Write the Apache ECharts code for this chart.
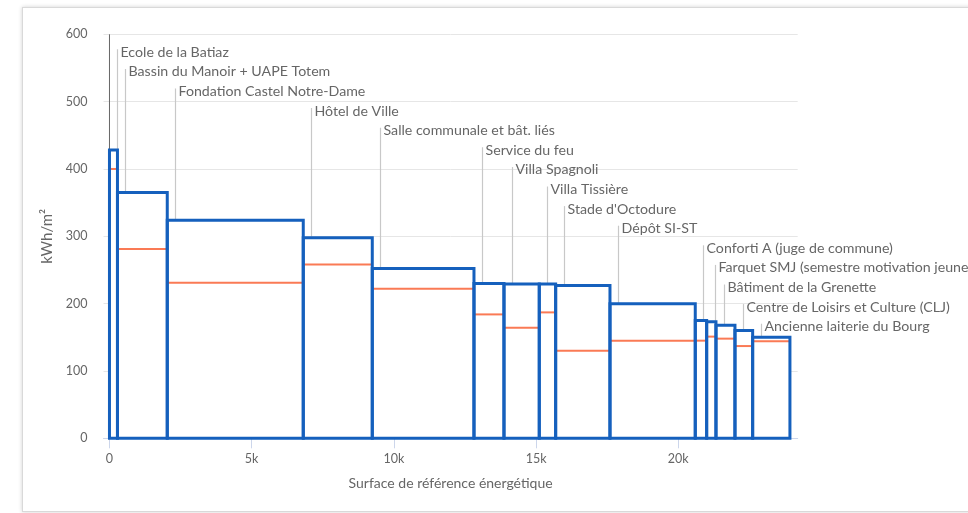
<!DOCTYPE html>
<html>
<head>
<meta charset="utf-8">
<script src="https://cdn.jsdelivr.net/npm/echarts@6/dist/echarts.min.js"></script>
<style>
html,body{margin:0;padding:0;background:#fff;overflow:hidden;width:968px;height:513px;}
#frame{position:absolute;left:22px;top:7px;width:1200px;height:503px;border:1px solid #d9d9d9;box-shadow:0 0 4px rgba(0,0,0,0.18);background:#fff;}
#chart{position:absolute;left:0;top:0;width:968px;height:513px;}
</style>
</head>
<body>
<div id="frame"></div>
<div id="chart"></div>
<script>
const buildings = [
  "Ecole de la Batiaz",
  "Bassin du Manoir + UAPE Totem",
  "Fondation Castel Notre-Dame",
  "Hôtel de Ville",
  "Salle communale et bât. liés",
  "Service du feu",
  "Villa Spagnoli",
  "Villa Tissière",
  "Stade d'Octodure",
  "Dépôt SI-ST",
  "Conforti A (juge de commune)",
  "Farquet SMJ (semestre motivation jeune",
  "Bâtiment de la Grenette",
  "Centre de Loisirs et Culture (CLJ)",
  "Ancienne laiterie du Bourg"
];
const surfaces = [281, 1751, 4782, 2427, 3576, 1055, 1241, 576, 1910, 2999, 401, 327, 668, 622, 1311];
const consumption = [428, 365, 324, 298, 252, 230, 229, 229, 227, 200, 175, 173, 168, 160, 150];
const target = [400, 281, 231, 258, 222, 184, 164, 187, 130, 145, 145, 151, 148, 137, 144];
const xTicks = [0, 5000, 10000, 15000, 20000];
const yTicks = [0, 100, 200, 300, 400, 500, 600];

const FONT = 'Lato, "Open Sans", sans-serif';
let acc = 0;
const items = surfaces.map((s, i) => {
  const x0 = acc; acc += s;
  return [x0, acc, consumption[i], target[i], i];
});

const chart = echarts.init(document.getElementById('chart'), null, {renderer: 'canvas'});
chart.setOption({
  animation: false,
  backgroundColor: 'transparent',
  grid: {left: 103.5, right: 170.3, top: 34.3, bottom: 74.7, containLabel: false},
  xAxis: {
    type: 'value', min: -210, max: 24200,
    name: 'Surface de référence énergétique', nameLocation: 'middle', nameGap: 38,
    nameTextStyle: {color: '#666', fontSize: 14, fontFamily: FONT},
    axisLine: {show: true, lineStyle: {color: '#ccd6eb', width: 1}},
    axisTick: {show: true, length: 10, customValues: xTicks, lineStyle: {color: '#ccd6eb'}},
    axisLabel: {customValues: xTicks, color: '#666', fontSize: 12.5, fontFamily: FONT, margin: 14,
      formatter: v => v === 0 ? '0' : (v / 1000) + 'k'},
    splitLine: {show: false}
  },
  yAxis: {
    type: 'value', min: 0, max: 600, interval: 100,
    name: 'kWh/m²', nameLocation: 'middle', nameGap: 48, nameRotate: 90,
    nameTextStyle: {color: '#666', fontSize: 15, fontFamily: FONT},
    axisLine: {show: false}, axisTick: {show: false},
    axisLabel: {color: '#666', fontSize: 12.5, fontFamily: FONT, margin: 16},
    splitLine: {show: true, lineStyle: {color: '#e6e6e6', width: 1}}
  },
  series: [
    {
      type: 'line', z: 1, silent: true, symbol: 'none',
      data: [[0, 0], [0, 600]],
      lineStyle: {color: '#666', width: 1}
    },
    {
      type: 'custom', z: 2, clip: false, silent: true,
      encode: {x: [0, 1], y: [2, 3]},
      data: items,
      renderItem: function (params, api) {
        const x0 = api.value(0), x1 = api.value(1), v = api.value(2), t = api.value(3), i = api.value(4);
        const tl = api.coord([x0, v]);
        const br = api.coord([x1, 0]);
        const tA = api.coord([x0, t]);
        const tB = api.coord([x1, t]);
        const topY = api.coord([0, 600])[1];
        const lx = Math.round(tl[0]) + 8.5;
        const ly = topY + 18 + i * 19.6;
        const w = br[0] - tl[0], h = br[1] - tl[1];
        return {
          type: 'group',
          children: [
            {type: 'line', z2: 1, shape: {x1: lx, y1: ly - 3, x2: lx, y2: br[1]},
              style: {stroke: '#c8c8c8', lineWidth: 1.2}},
            {type: 'rect', z2: 2, shape: {x: tl[0], y: tl[1], width: w, height: h},
              style: {fill: '#ffffff'}},
            {type: 'line', z2: 3, shape: {x1: tA[0], y1: tA[1], x2: tB[0], y2: tB[1]},
              style: {stroke: '#fa7a55', lineWidth: 2}},
            {type: 'rect', z2: 4, shape: {x: tl[0], y: tl[1], width: w, height: h},
              style: {fill: 'none', stroke: '#1560bd', lineWidth: 3, lineJoin: 'miter'}},
            {type: 'text', z2: 5,
              style: {text: buildings[params.dataIndex], x: lx + 3, y: ly, fill: '#666',
                fontSize: 14.2, fontFamily: FONT, verticalAlign: 'middle', align: 'left'}}
          ]
        };
      }
    }
  ]
});
</script>
</body>
</html>
